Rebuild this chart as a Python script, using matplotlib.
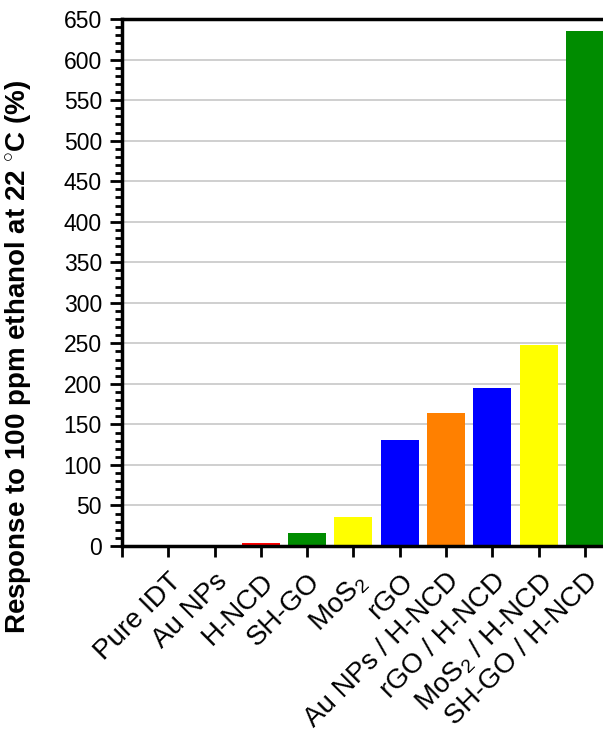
import matplotlib
matplotlib.use("Agg")
import matplotlib.pyplot as plt
from matplotlib.ticker import MultipleLocator, FixedLocator
from matplotlib.transforms import ScaledTranslation
import numpy as np

plt.rcParams['font.family'] = ['Liberation Sans', 'DejaVu Sans']
plt.rcParams['mathtext.fontset'] = 'custom'
plt.rcParams['mathtext.rm'] = 'Liberation Sans'
plt.rcParams['mathtext.it'] = 'Liberation Sans'
plt.rcParams['mathtext.bf'] = 'Liberation Sans:bold'

labels = ['Pure IDT', 'Au NPs', 'H-NCD', 'SH-GO', 'MoS$_2$', 'rGO',
          'Au NPs / H-NCD', 'rGO / H-NCD', 'MoS$_2$ / H-NCD', 'SH-GO / H-NCD']
response = [0, 0, 3.3, 16, 35.5, 130.5, 164.5, 195.5, 248.5, 635]
colors = ['#ff0000', '#ff0000', '#ff0000', '#008c00', '#ffff00', '#0000ff',
          '#ff8000', '#0000ff', '#ffff00', '#008c00']

fig = plt.figure(figsize=(6.03, 7.35), dpi=100)
ax = fig.add_axes([0.2023, 0.2571, 0.806, 0.717])

x = np.arange(len(labels))
ax.bar(x, response, width=0.82, color=colors, zorder=2)

ax.set_xlim(-1, 9.5)
ax.set_ylim(0, 650)
ax.yaxis.set_major_locator(MultipleLocator(50))
ax.yaxis.set_minor_locator(MultipleLocator(10))
ax.grid(axis='y', color='#cccccc', linewidth=1.3, zorder=0)

ax.xaxis.set_major_locator(FixedLocator(np.arange(-1, 10)))
ax.set_xticklabels([''] + labels, rotation=45, ha='right', va='top',
                   rotation_mode='anchor', fontsize=20)
# nudge the slanted labels a little to the right of their ticks
shift = ScaledTranslation(8 / 100, 0, fig.dpi_scale_trans)
for lab in ax.get_xticklabels():
    lab.set_transform(lab.get_transform() + shift)
ax.tick_params(axis='x', which='major', length=8, width=2, pad=8)
ax.tick_params(axis='y', which='major', length=8.5, width=2, labelsize=16.5, pad=6)
ax.tick_params(axis='y', which='minor', length=5, width=2)

for side in ['left', 'bottom', 'top']:
    ax.spines[side].set_linewidth(2.5)
ax.spines['right'].set_visible(False)

ax.set_ylabel('Response to 100 ppm ethanol at 22 $^{\\circ}$C (%)',
              fontsize=20, fontweight='bold')
ax.yaxis.set_label_coords(-0.183, 0.359)

fig.savefig('out.png', dpi=100)
